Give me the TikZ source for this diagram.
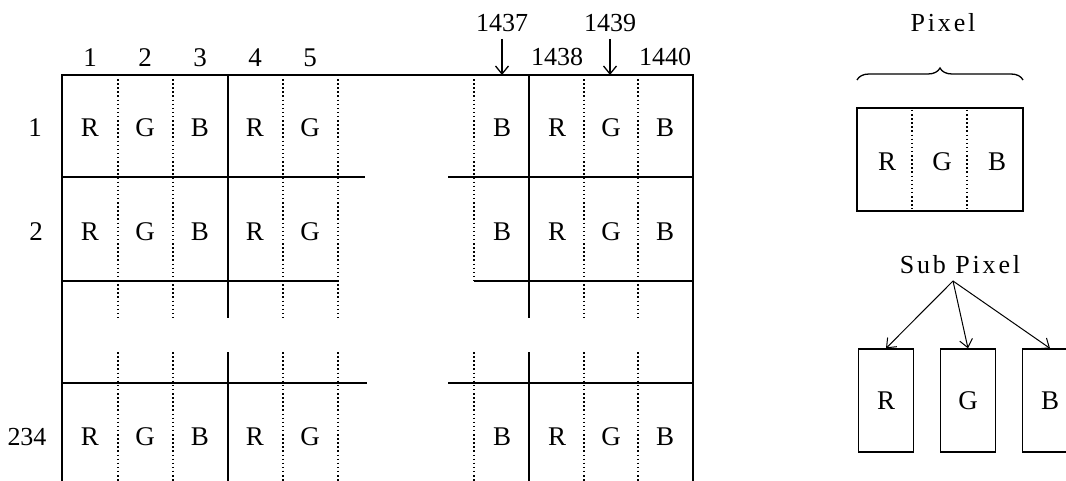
\documentclass[tikz,border=0pt]{standalone}
\usepackage{fontspec}
\usetikzlibrary{arrows.meta,decorations.pathreplacing}
\setmainfont{Liberation Serif}
\newfontfamily\spacedfont[LetterSpace=11]{Liberation Serif}
\tikzset{
  gridline/.style={line width=1.3pt},
  subline/.style={line width=1.5pt, dash pattern=on 1.5pt off 2.6pt},
  cell/.style={font=\fontsize{27}{27}\selectfont, inner sep=0pt},
  tag/.style={font=\fontsize{26}{26}\selectfont, inner sep=0pt},
  caption/.style={font=\spacedfont\fontsize{26}{26}\selectfont, inner sep=0pt},
  pointer/.style={-{Straight Barb[length=8pt,width=13pt]}, line width=1.3pt},
}

\begin{document}
\begin{tikzpicture}[x=1pt,y=-1pt]
    \path[use as bounding box] (0,0) rectangle (1066,481);
    \clip (0,0) rectangle (1066,481);

    % Frame of the panel
    \draw[gridline] (62,481) -- (62,75) -- (693,75) -- (693,481);

    % Row dividers
    \draw[gridline] (62,177) -- (365,177) (448,177) -- (693,177);
    \draw[gridline] (62,281) -- (338,281) (474,281) -- (693,281);
    \draw[gridline] (62,383) -- (367,383) (448,383) -- (693,383);

    % Pixel and sub pixel borders
    \foreach \x in {228,529}
        \draw[gridline] (\x,75) -- (\x,318) (\x,352) -- (\x,481);
    \foreach \x in {118,173,283,338,584,638}
        \draw[subline] (\x,75) -- (\x,318) (\x,352) -- (\x,481);
    \draw[subline] (474,75) -- (474,281) (474,352) -- (474,481);

    % Column numbers
    \foreach \n/\x in {1/90,2/145,3/200,4/255,5/310}
        \node[cell] (col\n) at (\x,58) {\n};
    \node[tag] (col1437) at (502,23) {1437};
    \node[tag] (col1438) at (557,57) {1438};
    \node[tag] (col1439) at (610,23) {1439};
    \node[tag] (col1440) at (665,57) {1440};
    \coordinate (top1437) at (502,75);
    \coordinate (top1439) at (610,75);
    \draw[pointer, shorten <=7pt] (col1437) -- (top1437);
    \draw[pointer, shorten <=7pt] (col1439) -- (top1439);

    % Row numbers
    \node[cell] (row1) at (35,128) {1};
    \node[cell] (row2) at (36,232) {2};
    \node[tag] (row234) at (27,437) {234};

    % Sub pixel letters
    \foreach \r/\y in {1/128,2/232,234/437} {
        \foreach \c/\x/\s in {1/90/R,2/145/G,3/200/B,4/255/R,5/310/G,
                              1437/502/B,1438/557/R,1439/611/G,1440/665/B}
            \node[cell] (cell\r-\c) at (\x,\y) {\s};
    }

    % Pixel
    \node[caption] (pixlabel) at (943,23) {Pixel};
    \draw[gridline, decorate, decoration={brace, amplitude=12pt}] (857,80) -- (1023,80);
    \node[draw, gridline, minimum width=166pt, minimum height=103pt, inner sep=0pt] (pixel) at (940,159.5) {};
    \draw[subline] (912,110) -- (912,209) (967,110) -- (967,209);
    \node[cell] (pixR) at (887,162) {R};
    \node[cell] (pixG) at (942,162) {G};
    \node[cell] (pixB) at (997,162) {B};

    % Sub Pixel
    \node[caption] (sublabel) at (960,265) {Sub Pixel};
    \coordinate (fork) at (953,281);
    \node[draw, gridline, cell, minimum width=55pt, minimum height=103pt] (subR) at (886,400.5) {R};
    \node[draw, gridline, cell, minimum width=55pt, minimum height=103pt] (subG) at (968,400.5) {G};
    \node[draw, gridline, cell, minimum width=55pt, minimum height=103pt] (subB) at (1050,400.5) {B};
    \draw[pointer, line width=1pt] (fork) -- (subR.north);
    \draw[pointer, line width=1pt] (fork) -- (subG.north);
    \draw[pointer, line width=1pt] (fork) -- (subB.north);
\end{tikzpicture}
\end{document}
